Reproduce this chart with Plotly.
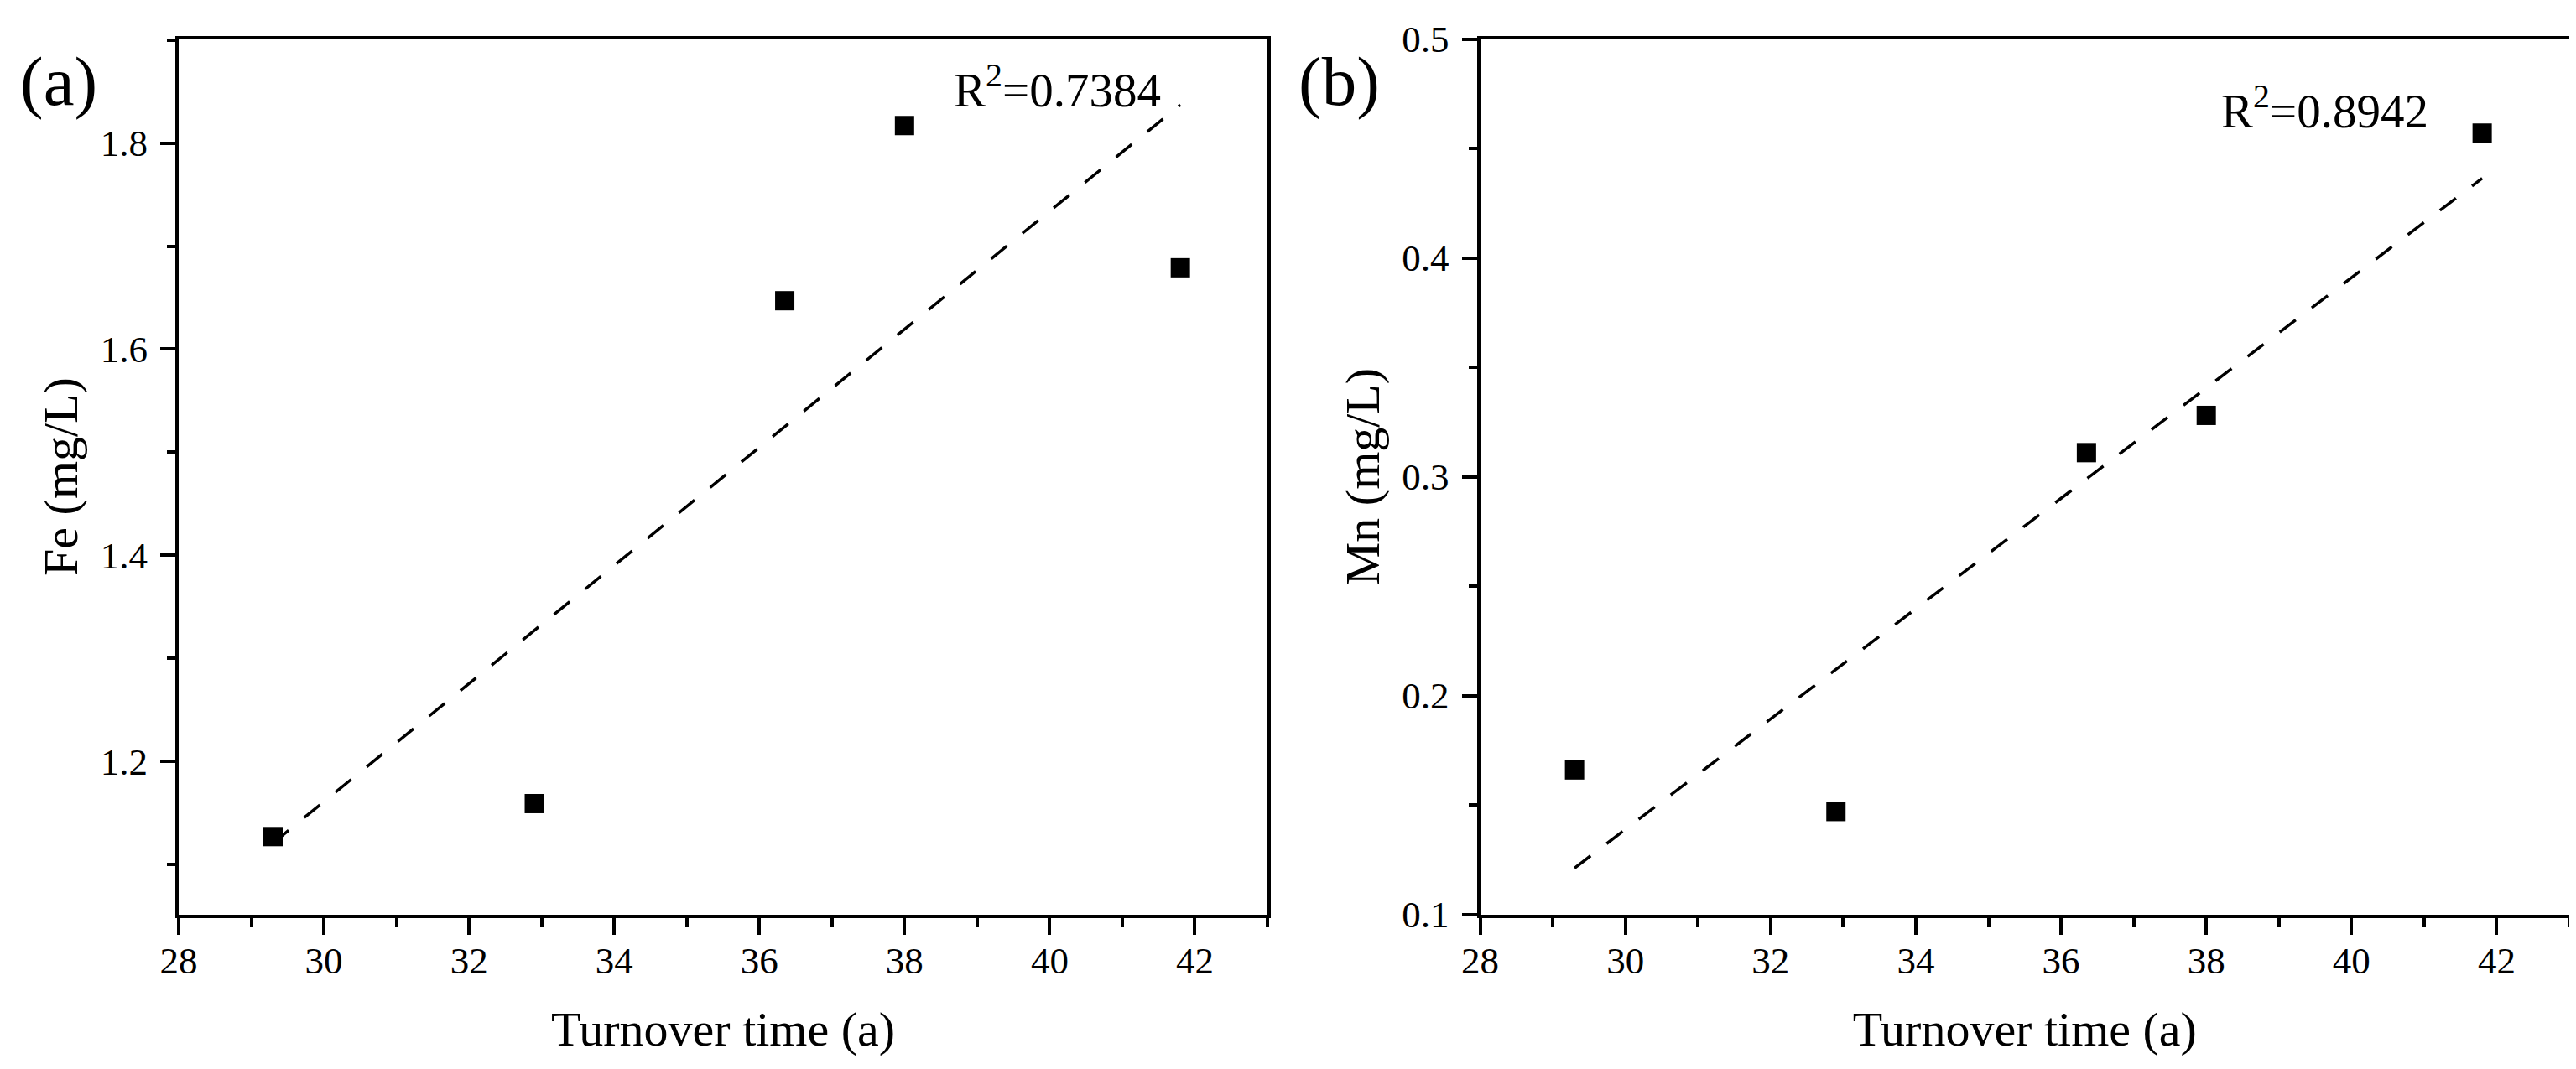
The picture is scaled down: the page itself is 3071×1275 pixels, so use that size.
import numpy as np
import plotly.graph_objects as go

# ---- data ----
turnover_time = [29.3, 32.9, 36.35, 38.0, 41.8]
fe_values = [1.127, 1.159, 1.647, 1.817, 1.679]
mn_values = [0.166, 0.147, 0.311, 0.328, 0.457]
r2_labels = ["R<sup>2</sup>=0.7384", "R<sup>2</sup>=0.8942"]
panel_labels = ["(a)", "(b)"]
x_title = "Turnover time (a)"
y_titles = ["Fe (mg/L)", "Mn (mg/L)"]

FONT = "Liberation Serif"
W, H = 3071, 1275

fig = go.Figure()


def fit_line(x, y):
    k, b = np.polyfit(x, y, 1)
    xs = np.array([min(x), max(x)])
    return xs, k * xs + b


for i, (yv, xa, ya) in enumerate([(fe_values, "x", "y"), (mn_values, "x2", "y2")]):
    fx, fy = fit_line(turnover_time, yv)
    fig.add_trace(go.Scatter(
        x=fx, y=fy, mode="lines", xaxis=xa, yaxis=ya,
        line=dict(color="black", width=3.5, dash="24px,24px"),
        showlegend=False, hoverinfo="skip"))
    fig.add_trace(go.Scatter(
        x=turnover_time, y=yv, mode="markers", xaxis=xa, yaxis=ya,
        marker=dict(symbol="square", size=23, color="black", line=dict(width=0)),
        showlegend=False))

axis_common = dict(
    showline=True, linewidth=4, linecolor="black", mirror=True,
    ticks="outside", tickwidth=4, tickcolor="black",
    showgrid=False, zeroline=False, automargin=False,
    tickfont=dict(family=FONT, size=45, color="black"),
)

xdom_a = [205 / W, 1503 / W]
xdom_b = [1756.6 / W, 3055 / W]
ydom = [1 - 1082.6 / H, 1 - 38.5 / H]

xaxis_common = dict(
    axis_common, range=[28, 43], tick0=28, dtick=2, ticklen=20,
    ticklabelstandoff=-8,
    minor=dict(dtick=1, tick0=28, ticklen=11, tickwidth=4, tickcolor="black", ticks="outside", showgrid=False),
    title=dict(text=x_title, font=dict(family=FONT, size=58, color="black"), standoff=38),
)

fig.update_layout(
    width=W, height=H, autosize=False,
    margin=dict(l=0, r=0, t=0, b=0),
    paper_bgcolor="white", plot_bgcolor="white",
    font=dict(family=FONT, color="black"),
    xaxis=dict(xaxis_common, domain=xdom_a, anchor="y"),
    xaxis2=dict(xaxis_common, domain=xdom_b, anchor="y2"),
    yaxis=dict(
        axis_common, domain=ydom, anchor="x", range=[1.0515, 1.901],
        tick0=1.2, dtick=0.2, ticklen=18, tickformat=".1f", ticklabelstandoff=6,
        minor=dict(dtick=0.1, tick0=1.1, ticklen=10, tickwidth=4, tickcolor="black", ticks="outside", showgrid=False),
        title=dict(text=y_titles[0], font=dict(family=FONT, size=58, color="black"), standoff=9),
    ),
    yaxis2=dict(
        axis_common, domain=ydom, anchor="x2", range=[0.1, 0.5],
        tick0=0.1, dtick=0.1, ticklen=18, tickformat=".1f", ticklabelstandoff=6,
        minor=dict(dtick=0.05, tick0=0.1, ticklen=10, tickwidth=4, tickcolor="black", ticks="outside", showgrid=False),
        title=dict(text=y_titles[1], font=dict(family=FONT, size=58, color="black"), standoff=9),
    ),
)

annotations = [
    dict(text=r2_labels[0], x=38.66, y=1.8553, xref="x", yref="y",
         xanchor="left", yanchor="middle", showarrow=False,
         font=dict(family=FONT, size=57, color="black")),
    dict(text=r2_labels[1], x=38.18, y=0.4686, xref="x2", yref="y2",
         xanchor="left", yanchor="middle", showarrow=False,
         font=dict(family=FONT, size=57, color="black")),
    dict(text=panel_labels[0], x=61.5 / W, y=1 - 89 / H, xref="paper", yref="paper",
         xanchor="center", yanchor="middle", showarrow=False,
         font=dict(family=FONT, size=83, color="black")),
    dict(text=panel_labels[1], x=1588 / W, y=1 - 89 / H, xref="paper", yref="paper",
         xanchor="center", yanchor="middle", showarrow=False,
         font=dict(family=FONT, size=83, color="black")),
]
fig.update_layout(annotations=annotations)

fig.write_html("out.html")
